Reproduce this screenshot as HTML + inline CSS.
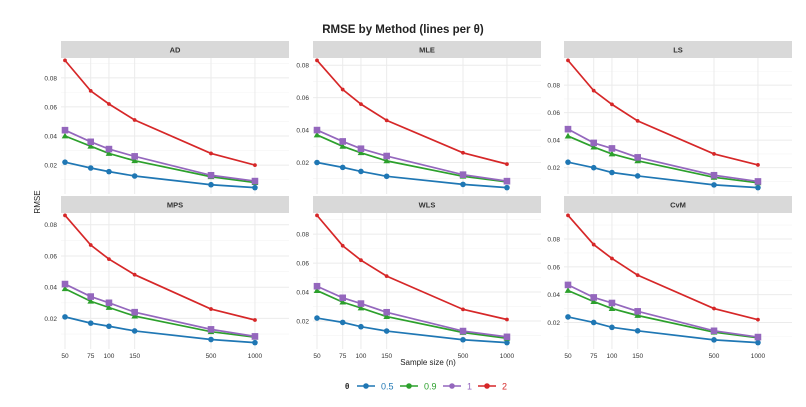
<!DOCTYPE html>
<html><head><meta charset="utf-8"><style>
body{margin:0;background:#fff;}
svg{font-family:"Liberation Sans",sans-serif;}
</style></head><body>
<svg id="c" width="806" height="402" viewBox="0 0 806 402">
<text x="403" y="33" text-anchor="middle" font-size="11.5" font-weight="bold" fill="#222">RMSE by Method (lines per θ)</text>
<text transform="translate(40,202) rotate(-90)" text-anchor="middle" font-size="8" fill="#222">RMSE</text>
<text x="428" y="365" text-anchor="middle" font-size="8" fill="#222">Sample size (n)</text>
<g id="legend"></g>
</svg>
<script>
const sizes=[50,75,100,150,500,1000];
const methods=["AD","MLE","LS","MPS","WLS","CvM"];
const thetas=["0.5","0.9","1","2"];
const yTicks=[0.02,0.04,0.06,0.08];
const yTickLabels=["0.02","0.04","0.06","0.08"];
const AD=[[.022,.018,.0155,.0125,.0065,.0045],[.040,.033,.028,.023,.012,.008],[.044,.036,.031,.026,.013,.009],[.092,.071,.062,.051,.028,.020]];
const MLE=[[.020,.017,.0145,.0115,.0065,.0045],[.037,.030,.026,.021,.0115,.008],[.040,.033,.0285,.024,.0125,.0085],[.083,.065,.056,.046,.026,.019]];
const LS=[[.024,.020,.0165,.014,.0075,.0055],[.043,.035,.030,.025,.013,.009],[.048,.038,.034,.0275,.0145,.010],[.098,.076,.066,.054,.030,.022]];
const MPS=[[.021,.017,.015,.012,.0065,.0045],[.039,.031,.027,.0215,.0115,.008],[.042,.034,.030,.024,.013,.0085],[.086,.067,.058,.048,.026,.019]];
const WLS=[[.022,.019,.016,.013,.007,.005],[.041,.033,.029,.023,.012,.008],[.044,.036,.032,.026,.013,.009],[.093,.072,.062,.051,.028,.021]];
const CvM=[[.024,.020,.0165,.014,.0075,.0055],[.043,.035,.030,.025,.013,.009],[.047,.038,.034,.028,.014,.0095],[.097,.076,.066,.054,.030,.022]];
const dataByMethod={AD,MLE,LS,MPS,WLS,CvM};
const colors=["#1f77b4","#2ca02c","#9467bd","#d62728"];
const NS="http://www.w3.org/2000/svg";
const svg=document.getElementById('c');
function mk(t,a,p){const e=document.createElementNS(NS,t);for(const k in a)e.setAttribute(k,a[k]);(p||svg).appendChild(e);return e;}
const colX=[61,313,564], pw=228;
const rowStrip=[41,196], plotTop=[54,209], plotBot=[194,349];
function xs(col,n){return colX[col]+4+(Math.log10(n)-Math.log10(50))*146;}
methods.forEach((m,i)=>{
  const col=i%3,row=Math.floor(i/3);
  const d=dataByMethod[m];
  const g=mk('g',{});
  
  
  let all=[].concat(...d);let mn=Math.min(...all),mx=Math.max(...all);const ex=(mx-mn)*0.05;mn-=ex;mx+=ex;
  const ys=v=>plotBot[row]-(v-mn)/(mx-mn)*(plotBot[row]-plotTop[row]);
  const x0=colX[col],x1=colX[col]+pw,top=rowStrip[row]+17,bot=plotBot[row];
  for(let k=0;k<yTicks.length+1;k++){const v=0.01+0.02*k;const y=ys(v);if(y>top&&y<bot){const l=mk('line',{x1:x0,x2:x1,y1:y,y2:y,stroke:'#f4f4f4','stroke-width':0.6},g);}}
  yTicks.forEach((v,k)=>{const y=ys(v);if(y>top&&y<bot){const l=mk('line',{x1:x0,x2:x1,y1:y,y2:y,stroke:'#ebebeb','stroke-width':1},g);
    const t=mk('text',{x:x0-4,y:y+2.5,'text-anchor':'end','font-size':6.5,fill:'#333'},g);t.textContent=yTickLabels[k];}});
  sizes.forEach(n=>{const x=xs(col,n);const l=mk('line',{x1:x,x2:x,y1:top,y2:bot,stroke:'#ebebeb','stroke-width':1},g);
    if(row===1){const t=mk('text',{x:x,y:358,'text-anchor':'middle','font-size':6.5,fill:'#333'},g);t.textContent=n;}});
  const s=mk('rect',{x:x0,y:rowStrip[row],width:pw,height:17,fill:'#d9d9d9'},g);
  const st=mk('text',{x:x0+pw/2,y:rowStrip[row]+11.5,'text-anchor':'middle','font-size':7.5,'font-weight':'bold',fill:'#333'},g);st.textContent=m;
  d.forEach((ser,si)=>{
    const pts=ser.map((v,j)=>[xs(col,sizes[j]),ys(v)]);
    const pl=mk('polyline',{points:pts.map(p=>p.join(',')).join(' '),fill:'none',stroke:colors[si],'stroke-width':1.7},g);
    
    pts.forEach(p=>{let e;
      if(si===0)e=mk('circle',{cx:p[0],cy:p[1],r:2.8,fill:colors[si]},g);
      else if(si===1)e=mk('polygon',{points:`${p[0]},${p[1]-3.3} ${p[0]-3.3},${p[1]+2.4} ${p[0]+3.3},${p[1]+2.4}`,fill:colors[si]},g);
      else if(si===2)e=mk('rect',{x:p[0]-3.3,y:p[1]-3.3,width:6.6,height:6.6,fill:colors[si]},g);
      else e=mk('circle',{cx:p[0],cy:p[1],r:1.9,fill:colors[si]},g);
      });
  });
});
const lg=document.getElementById('legend');
const lt=mk('text',{x:345,y:389,'font-size':8,'font-weight':'bold',fill:'#222'},lg);lt.textContent='θ';

const lx=[357,400,443,478];
thetas.forEach((t,i)=>{const g=mk('g',{},lg);
  mk('line',{x1:lx[i],x2:lx[i]+18,y1:386,y2:386,stroke:colors[i],'stroke-width':1.5},g);
  mk('circle',{cx:lx[i]+9,cy:386,r:2.8,fill:colors[i]},g);
  const tx=mk('text',{x:lx[i]+24,y:389.5,'font-size':9,fill:colors[i]},g);tx.textContent=t;});
</script>
</body></html>
